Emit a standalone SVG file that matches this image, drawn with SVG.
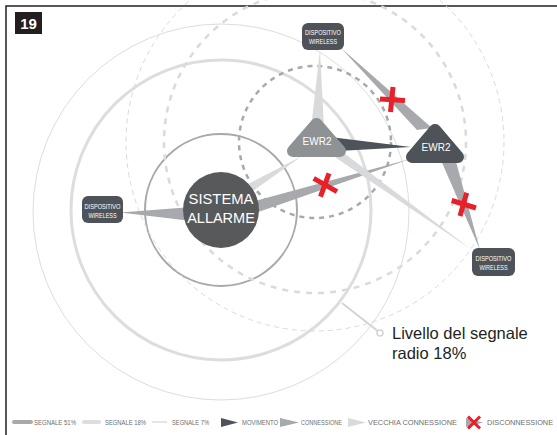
<svg xmlns="http://www.w3.org/2000/svg" width="557" height="435" viewBox="0 0 557 435">
<style>
.frame{stroke:#231f20;stroke-width:1.5;fill:none}
.sig51{fill:none;stroke:#a7a9ac;stroke-width:2}
.sig18{fill:none;stroke:#dcddde;stroke-width:3}
.sig7{fill:none;stroke:#dcddde;stroke-width:1}
.d51{fill:none;stroke:#a7a9ac;stroke-width:2.5;stroke-dasharray:5 5}
.d18{fill:none;stroke:#d9dadb;stroke-width:2.5;stroke-dasharray:6 6}
.d7{fill:none;stroke:#d9dadb;stroke-width:1;stroke-dasharray:5 4}
.conn{fill:#a7a9ac}
.old{fill:#d9dadc}
.move{fill:#4d5358}
.dev rect{fill:#4d5358}
.devt{font-family:"Liberation Sans",Arial,sans-serif;font-size:7.5px;fill:#ffffff;text-anchor:middle}
.ewr{font-family:"Liberation Sans",Arial,sans-serif;font-size:10px;fill:#ffffff;text-anchor:middle}
.x{stroke:#e8202a;stroke-width:5;stroke-linecap:butt}
.leg{font-family:"Liberation Sans",Arial,sans-serif;font-size:7.5px;fill:#6d6e71}
</style>
<rect width="557" height="435" fill="#ffffff"/>
<path class="frame" d="M557,6 H6 V435"/>
<g id="fig-number">
<rect x="15" y="12" width="27" height="22" fill="#231f20"/>
<text x="28.5" y="29" font-family="Liberation Sans,Arial,sans-serif" font-weight="bold" font-size="15" fill="#ffffff" text-anchor="middle">19</text>
</g>
<g id="signal-circles">
<circle class="sig7" cx="221" cy="212" r="188"/>
<circle class="sig18" cx="221" cy="210" r="150"/>
<circle class="sig51" cx="221" cy="210" r="76"/>
<circle class="d7" cx="315" cy="142" r="189"/>
<circle class="d18" cx="315" cy="142" r="151"/>
<circle class="d51" cx="315" cy="142" r="76"/>
</g>
<g id="connectors">
<polygon class="conn" points="120,212.5 192,207 192,221"/>
<polygon class="old" points="237.4,189.7 242.6,198.3 302,156"/>
<polygon class="conn" points="248.3,202.8 251.7,214.2 410,159"/>
<polygon class="move" points="334,137.5 338,151 411,147"/>
<polygon class="old" points="320,50 311,128 324,128"/>
<polygon class="conn" points="341,48 432,128 417,130"/>
<polygon class="conn" points="440,158 455,158 480,250"/>
<polygon class="old" points="340.5,150.5 335.5,157.5 472,250"/>
<line x1="342" y1="303" x2="379" y2="332" stroke="#d3d4d5" stroke-width="2"/>
<circle cx="380" cy="333" r="3" fill="#ffffff" stroke="#d3d4d5" stroke-width="1.5"/>
</g>
<g id="sistema-allarme">
<circle cx="221" cy="210" r="38" fill="#58595b"/>
<text x="221" y="204" font-family="Liberation Sans,Arial,sans-serif" font-size="14.8" fill="#ffffff" text-anchor="middle">SISTEMA</text>
<text x="221" y="222.5" font-family="Liberation Sans,Arial,sans-serif" font-size="14.5" fill="#ffffff" text-anchor="middle">ALLARME</text>
</g>
<g id="ewr2-left">
<polygon points="316.5,124 293,151 340,151" fill="#8e9295" stroke="#8e9295" stroke-width="12" stroke-linejoin="round"/>
<text class="ewr" x="317" y="144.5">EWR2</text>
</g>
<g id="ewr2-right">
<polygon points="435,130 412,157 458,157" fill="#4d5358" stroke="#4d5358" stroke-width="12" stroke-linejoin="round"/>
<text class="ewr" x="436" y="150.5">EWR2</text>
</g>
<g id="device-top" class="dev">
<rect x="302" y="23" width="42" height="27" rx="6"/>
<text class="devt" x="323" y="35" textLength="36" lengthAdjust="spacingAndGlyphs">DISPOSITIVO</text>
<text class="devt" x="323" y="44" textLength="28" lengthAdjust="spacingAndGlyphs">WIRELESS</text>
</g>
<g id="device-left" class="dev">
<rect x="82" y="196" width="41" height="27" rx="6"/>
<text class="devt" x="102.5" y="208.5" textLength="36" lengthAdjust="spacingAndGlyphs">DISPOSITIVO</text>
<text class="devt" x="102.5" y="217.5" textLength="28" lengthAdjust="spacingAndGlyphs">WIRELESS</text>
</g>
<g id="device-right" class="dev">
<rect x="472" y="248" width="43" height="28" rx="6"/>
<text class="devt" x="493.5" y="261" textLength="36" lengthAdjust="spacingAndGlyphs">DISPOSITIVO</text>
<text class="devt" x="493.5" y="270" textLength="28" lengthAdjust="spacingAndGlyphs">WIRELESS</text>
</g>
<g id="disconnections">
<line class="x" x1="380" y1="99" x2="405" y2="100.5"/>
<line class="x" x1="393" y1="87" x2="390.5" y2="112"/>
<line class="x" x1="313.7" y1="178.3" x2="337" y2="191.7"/>
<line class="x" x1="329" y1="173.3" x2="320.5" y2="196.7"/>
<line class="x" x1="451.7" y1="200.5" x2="476" y2="208"/>
<line class="x" x1="466.7" y1="192.7" x2="460" y2="216"/>
</g>
<g id="callout">
<text x="392" y="339" font-family="Liberation Sans,Arial,sans-serif" font-size="16.5" fill="#231f20">Livello del segnale</text>
<text x="392" y="359" font-family="Liberation Sans,Arial,sans-serif" font-size="16.5" fill="#231f20">radio 18%</text>
</g>
<g id="legend">
<line x1="14" y1="422" x2="31" y2="422" stroke="#a7a9ac" stroke-width="4" stroke-linecap="round"/>
<text class="leg" x="34" y="425" textLength="42" lengthAdjust="spacingAndGlyphs">SEGNALE 51%</text>
<line x1="84" y1="422" x2="99" y2="422" stroke="#dcddde" stroke-width="4" stroke-linecap="round"/>
<text class="leg" x="105" y="425" textLength="41" lengthAdjust="spacingAndGlyphs">SEGNALE 18%</text>
<line x1="152" y1="422" x2="167" y2="422" stroke="#dcddde" stroke-width="1.5"/>
<text class="leg" x="172" y="425" textLength="37" lengthAdjust="spacingAndGlyphs">SEGNALE 7%</text>
<polygon class="move" points="221,418 221,427 238,422.5"/>
<text class="leg" x="242" y="425" textLength="36" lengthAdjust="spacingAndGlyphs">MOVIMENTO</text>
<polygon class="conn" points="280,418 280,427 299,422.5"/>
<text class="leg" x="301" y="425" textLength="41" lengthAdjust="spacingAndGlyphs">CONNESSIONE</text>
<polygon class="old" points="348,418 348,427 366,422.5"/>
<text class="leg" x="368" y="425" textLength="89" lengthAdjust="spacingAndGlyphs">VECCHIA CONNESSIONE</text>
<polygon class="conn" points="466,418 466,427 483,422.5"/>
<line class="x" x1="468" y1="416.5" x2="480" y2="428.5" style="stroke-width:3"/>
<line class="x" x1="480" y1="416.5" x2="468" y2="428.5" style="stroke-width:3"/>
<text class="leg" x="487" y="425" textLength="66" lengthAdjust="spacingAndGlyphs">DISCONNESSIONE</text>
</g>
</svg>
